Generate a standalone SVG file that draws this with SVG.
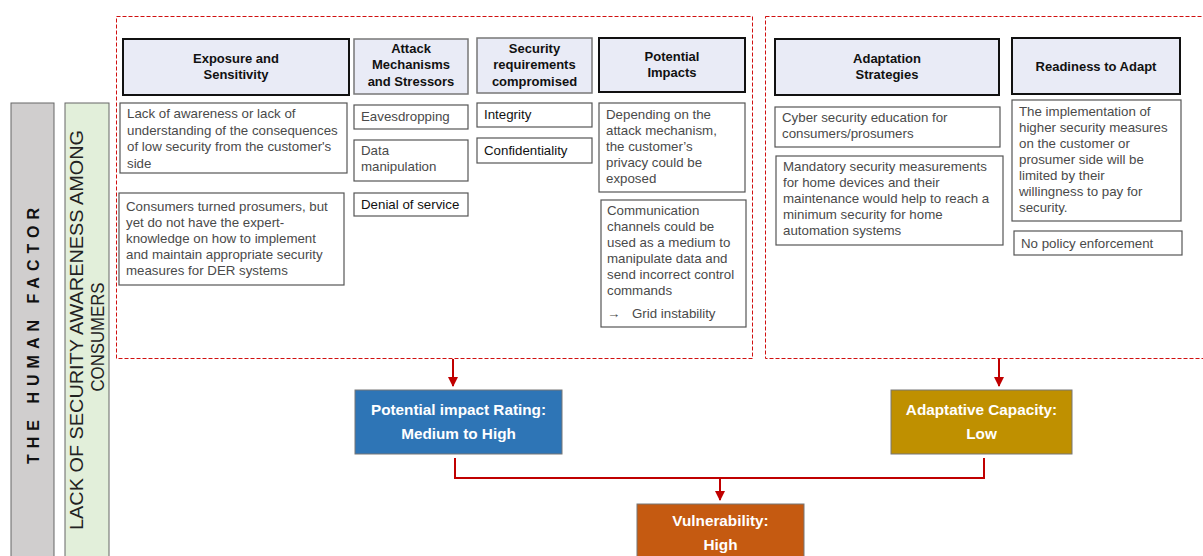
<svg xmlns="http://www.w3.org/2000/svg" width="1203" height="556" viewBox="0 0 1203 556">
<style>
text{font-family:"Liberation Sans",Arial,sans-serif}
.hdr{fill:#E9EBF6;stroke:#111;stroke-width:2}
.hdr2{fill:#E9EBF6;stroke:#777;stroke-width:1.5}
.ht{font-size:13px;font-weight:bold;fill:#111;text-anchor:middle}
.box{fill:#fff;stroke:#555;stroke-width:1.2}
.dt{font-size:13.3px;fill:#4a4a4a}
.dtk{font-size:13.3px;fill:#111}
.dash{fill:none;stroke:#D01010;stroke-width:1;stroke-dasharray:4 2}
.con{fill:none;stroke:#C00000;stroke-width:2}
.rt{font-size:15.3px;font-weight:bold;fill:#fff;text-anchor:middle}
</style>
<defs>
<marker id="ah" viewBox="0 0 10 10" refX="9" refY="5" markerWidth="5" markerHeight="5" orient="auto">
<path d="M0,0 L10,5 L0,10 z" fill="#C00000"/>
</marker>
</defs>
<rect width="1203" height="556" fill="#fff"/>

<g id="human-factor">
<rect x="11" y="103" width="43" height="460" fill="#D0CECE" stroke="#666" stroke-width="1"/>
<text transform="translate(39,333) rotate(-90)" text-anchor="middle" font-size="16" font-weight="bold" letter-spacing="6" fill="#111">THE HUMAN FACTOR</text>
</g>
<g id="lack-awareness">
<rect x="65" y="103" width="44" height="460" fill="#E2EFDA" stroke="#666" stroke-width="1"/>
<text transform="translate(83,330) rotate(-90)" text-anchor="middle" font-size="18" fill="#222" textLength="400" lengthAdjust="spacingAndGlyphs">LACK OF SECURITY AWARENESS AMONG</text>
<text transform="translate(104,337) rotate(-90)" text-anchor="middle" font-size="18" fill="#222" textLength="109" lengthAdjust="spacingAndGlyphs">CONSUMERS</text>
</g>

<g id="impact-group">
<rect class="dash" x="116.5" y="16.5" width="636" height="342"/>
</g>
<g id="adapt-group">
<rect class="dash" x="765.5" y="16.5" width="445" height="342"/>
</g>

<g id="exposure-header">
<rect class="hdr" x="123" y="39" width="226" height="56"/>
<text class="ht" x="236" y="63">Exposure and</text>
<text class="ht" x="236" y="79">Sensitivity</text>
</g>
<g id="attack-header">
<rect class="hdr2" x="354" y="39" width="114" height="55"/>
<text class="ht" x="411" y="53">Attack</text>
<text class="ht" x="411" y="69">Mechanisms</text>
<text class="ht" x="411" y="86">and Stressors</text>
</g>
<g id="security-header">
<rect class="hdr2" x="477" y="38" width="115" height="55"/>
<text class="ht" x="534.5" y="53">Security</text>
<text class="ht" x="534.5" y="69">requirements</text>
<text class="ht" x="534.5" y="86">compromised</text>
</g>
<g id="impacts-header">
<rect class="hdr" x="599" y="38" width="146" height="54"/>
<text class="ht" x="672" y="61">Potential</text>
<text class="ht" x="672" y="77">Impacts</text>
</g>

<g id="lack-box">
<rect class="box" x="120" y="103" width="227" height="70"/>
<text class="dt" x="127" y="118">Lack of awareness or lack of</text>
<text class="dt" x="127" y="134.5">understanding of the consequences</text>
<text class="dt" x="127" y="151">of low security from the customer's</text>
<text class="dt" x="127" y="167.5">side</text>
</g>
<g id="prosumers-box">
<rect class="box" x="119" y="193" width="225" height="92"/>
<text class="dt" x="126" y="211">Consumers turned prosumers,  but</text>
<text class="dt" x="126" y="227">yet do not have the expert-</text>
<text class="dt" x="126" y="243">knowledge on how to implement</text>
<text class="dt" x="126" y="259">and maintain appropriate security</text>
<text class="dt" x="126" y="275">measures for DER systems</text>
</g>
<g id="eavesdropping">
<rect class="box" x="354" y="105" width="114" height="24"/>
<text class="dt" x="361" y="121">Eavesdropping</text>
</g>
<g id="data-manipulation">
<rect class="box" x="354" y="140" width="114" height="41"/>
<text class="dt" x="361" y="155">Data</text>
<text class="dt" x="361" y="171">manipulation</text>
</g>
<g id="dos">
<rect class="box" x="354" y="193" width="114" height="23"/>
<text class="dtk" x="361" y="209">Denial of service</text>
</g>
<g id="integrity">
<rect class="box" x="477" y="103" width="115" height="24"/>
<text class="dtk" x="484" y="119">Integrity</text>
</g>
<g id="confidentiality">
<rect class="box" x="477" y="138" width="115" height="25"/>
<text class="dtk" x="484" y="155">Confidentiality</text>
</g>
<g id="privacy-box">
<rect class="box" x="599" y="103" width="146" height="89"/>
<text class="dt" x="606" y="119">Depending on the</text>
<text class="dt" x="606" y="135">attack mechanism,</text>
<text class="dt" x="606" y="151">the customer’s</text>
<text class="dt" x="606" y="167">privacy could be</text>
<text class="dt" x="606" y="183">exposed</text>
</g>
<g id="grid-box">
<rect class="box" x="601" y="200" width="145" height="127"/>
<text class="dt" x="607" y="215">Communication</text>
<text class="dt" x="607" y="231">channels could be</text>
<text class="dt" x="607" y="247">used as a medium to</text>
<text class="dt" x="607" y="263">manipulate data and</text>
<text class="dt" x="607" y="279">send incorrect control</text>
<text class="dt" x="607" y="295">commands</text>
<text class="dt" x="607" y="318">→</text>
<text class="dt" x="632" y="318">Grid instability</text>
</g>

<g id="adaptation-header">
<rect class="hdr" x="775" y="39" width="224" height="56"/>
<text class="ht" x="887" y="63">Adaptation</text>
<text class="ht" x="887" y="79">Strategies</text>
</g>
<g id="readiness-header">
<rect class="hdr" x="1012" y="38" width="168" height="56"/>
<text class="ht" x="1096" y="71">Readiness to Adapt</text>
</g>
<g id="education-box">
<rect class="box" x="775" y="107" width="225" height="40"/>
<text class="dt" x="782" y="122">Cyber security education for</text>
<text class="dt" x="782" y="138">consumers/prosumers</text>
</g>
<g id="mandatory-box">
<rect class="box" x="776" y="156" width="227" height="89"/>
<text class="dt" x="783" y="171">Mandatory security measurements</text>
<text class="dt" x="783" y="187">for home devices and their</text>
<text class="dt" x="783" y="203">maintenance would help to reach a</text>
<text class="dt" x="783" y="219">minimum security for home</text>
<text class="dt" x="783" y="235">automation systems</text>
</g>
<g id="willingness-box">
<rect class="box" x="1012" y="100" width="169" height="121"/>
<text class="dt" x="1019" y="116">The implementation of</text>
<text class="dt" x="1019" y="132">higher security measures</text>
<text class="dt" x="1019" y="148">on the customer or</text>
<text class="dt" x="1019" y="164">prosumer side will be</text>
<text class="dt" x="1019" y="180">limited by their</text>
<text class="dt" x="1019" y="196">willingness to pay for</text>
<text class="dt" x="1019" y="212">security.</text>
</g>
<g id="policy-box">
<rect class="box" x="1014" y="231" width="168" height="24"/>
<text class="dt" x="1021" y="248">No policy enforcement</text>
</g>

<g id="impact-rating">
<rect x="355" y="390" width="207" height="64" fill="#2E75B6" stroke="#777" stroke-width="1"/>
<text class="rt" x="458.5" y="415">Potential impact Rating:</text>
<text class="rt" x="458.5" y="439">Medium to High</text>
</g>
<g id="adaptive-capacity">
<rect x="891" y="390" width="181" height="64" fill="#BF9000" stroke="#777" stroke-width="1"/>
<text class="rt" x="981.5" y="415">Adaptative Capacity:</text>
<text class="rt" x="981.5" y="439">Low</text>
</g>
<g id="vulnerability">
<rect x="637" y="504" width="167" height="64" fill="#C55A11" stroke="#777" stroke-width="1"/>
<text class="rt" x="720.5" y="526">Vulnerability:</text>
<text class="rt" x="720.5" y="550">High</text>
</g>

<g id="connectors">
<path class="con" d="M453,359 V386" marker-end="url(#ah)"/>
<path class="con" d="M999,359 V386" marker-end="url(#ah)"/>
<path class="con" d="M455,458 V478 H984 V458"/>
<path class="con" d="M720,478 V500" marker-end="url(#ah)"/>
</g>
</svg>
